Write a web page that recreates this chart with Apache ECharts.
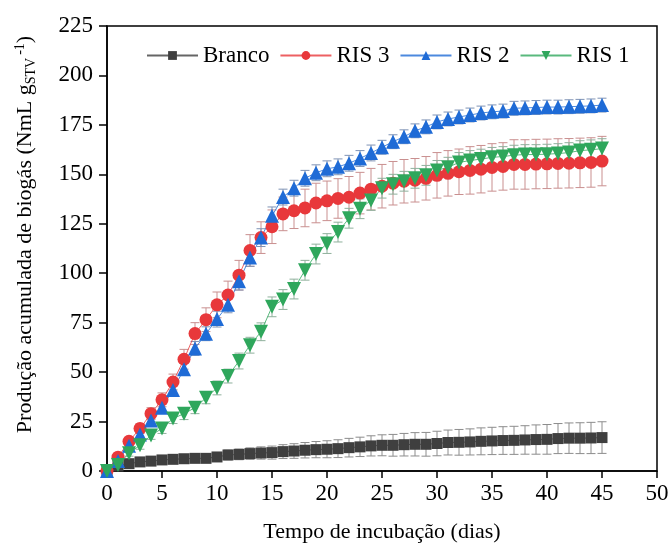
<!DOCTYPE html>
<html><head><meta charset="utf-8">
<script src="https://cdn.jsdelivr.net/npm/echarts@6/dist/echarts.min.js"></script>
<style>html,body{margin:0;padding:0;background:#fff}#c{width:669px;height:543px}</style>
</head><body><div id="c"></div>
<script>
var days = [0,1,2,3,4,5,6,7,8,9,10,11,12,13,14,15,16,17,18,19,20,21,22,23,24,25,26,27,28,29,30,31,32,33,34,35,36,37,38,39,40,41,42,43,44,45];
var branco = [0,2.5,3.7,4.6,5,5.6,5.9,6.2,6.4,6.4,7.1,8.1,8.4,8.8,9.1,9.3,9.8,10.1,10.5,10.8,11,11.3,11.8,12.2,12.7,13,13,13.3,13.5,13.5,13.9,14.4,14.5,14.7,15,15.2,15.4,15.5,15.7,15.9,16,16.4,16.6,16.6,16.7,16.9];
var brancoErr = [0,0.5,0.8,1,1.2,1.4,1.5,1.7,1.9,2,2.2,2.5,2.7,2.9,3.1,3.3,3.5,3.7,3.9,4.1,4.3,4.5,4.7,4.9,5.1,5.3,5.5,5.7,5.9,6,6.2,6.3,6.5,6.6,6.8,6.9,7,7.1,7.2,7.4,7.5,7.6,7.7,7.8,7.9,8];
var ris3 = [0,7,15,21.5,29,36,45,56.5,69.5,76.5,84,89,99,111.5,118,123.5,130,131.6,133,135.5,136.6,137.8,138.4,140.5,142.5,144,145.5,146.5,147,148,149.5,150.5,151.3,152,152.6,153.5,154,155,155,155.2,155.3,155.5,155.6,155.8,156,156.7];
var ris3Err = [0,1.5,2,2.5,3,3.5,4,5,5.5,6,6.5,7,7.5,8,8,8.5,8.5,9,9.5,10,10,10,10.5,10.5,10.5,11,11,11,11,11,11.5,11.5,11.5,12,12,12,12,12.5,12.5,12.5,12.5,12.5,12.5,12.5,12.5,12.5];
var ris2 = [0,5,12.8,18.4,25.5,32,41,51.5,62,69.4,76.8,84,96,108,118,129,138.5,143,148,150.8,152.8,153.8,155.6,158,160.8,163.7,166.5,169,172,174,176.5,178,179,180,181,181.6,182,183.4,183.6,183.8,184,184,184.2,184.4,184.6,185];
var ris2Err = [0,1,1.5,2,2.5,2.5,3,3,3.5,3.5,4,4,4.5,4.5,4.5,4.5,4,4,4,4,4,4,4,4,4,3.5,3.5,3.5,3.5,3.5,3.5,3.5,3.5,3.5,3.5,3.5,3.5,3.5,3.5,3.5,3.5,3.5,3.5,3.5,3.5,3.5];
var ris1 = [0,3,9,13,18,21.5,26.5,29,32,37,42,48,55.6,63.6,70.4,83,86.7,92,101.5,109.7,115,120.8,127.8,132.6,136.8,143,145,146.5,148,149.5,152,153.6,156,157,157.7,158.6,159,159.7,160,160,160.2,160.5,161,162,162.4,163];
var ris1Err = [0,1,1.5,2,2,2.5,2.5,3,3,3,3.5,3.5,4,4,4.5,5,5,5,5,5,5,5,5,5,5,5,5,5,5,5,5,5,5,5,5,5,5,5,5,5,5,5,5,5,5,5];
var xTicks = {min:0, max:50, interval:5};
var yTicks = {min:0, max:225, interval:25};

var FONT = 'Liberation Serif';
function pairs(v){ return days.map(function(d,i){ return [d, v[i]]; }); }
function errData(v,e){ return days.map(function(d,i){ return [d, v[i]-e[i], v[i]+e[i]]; }); }
function errSeries(name, v, e, color){
  return {
    type:'custom', name:name, z:1, silent:true,
    data: errData(v,e),
    encode:{x:0, y:[1,2]},
    renderItem:function(params, api){
      var x=api.value(0), lo=api.value(1), hi=api.value(2);
      var a=api.coord([x,lo]), b=api.coord([x,hi]);
      var w=4.5;
      var st={stroke:color, lineWidth:1};
      return {type:'group', children:[
        {type:'line', shape:{x1:a[0],y1:a[1],x2:b[0],y2:b[1]}, style:st},
        {type:'line', shape:{x1:a[0]-w,y1:a[1],x2:a[0]+w,y2:a[1]}, style:st},
        {type:'line', shape:{x1:b[0]-w,y1:b[1],x2:b[0]+w,y2:b[1]}, style:st}
      ]};
    }
  };
}
function lineSeries(name, v, color, symbol, size, rot){
  return {
    type:'line', name:name, data:pairs(v), z:3,
    symbol:symbol, symbolSize:size, symbolRotate:rot||0, showAllSymbol:true,
    lineStyle:{color:color, width:1, opacity:0.8},
    itemStyle:{color:color, opacity:1},
    emphasis:{disabled:true}, animation:false
  };
}
var cBr='#3f3f3f', cR3='#e8383b', cR2='#1f6bd6', cR1='#2fa75c';
var chart = echarts.init(document.getElementById('c'), null, {renderer:'canvas'});
chart.setOption({
  animation:false,
  backgroundColor:'#fff',
  grid:{left:107, right:12, top:26, bottom:72, containLabel:false, outerBoundsMode:'none',
        show:true, borderColor:'#000', borderWidth:1.5, backgroundColor:'transparent'},
  legend:{
    top:39, left:141, itemWidth:51, itemHeight:11, itemGap:10,
    data:['Branco','RIS 3','RIS 2','RIS 1'],
    textStyle:{fontFamily:FONT, fontSize:23, color:'#000'}
  },
  xAxis:{
    type:'value', min:xTicks.min, max:xTicks.max, interval:xTicks.interval,
    name:'Tempo de incubação (dias)', nameLocation:'middle', nameGap:50,
    nameTextStyle:{fontFamily:FONT, fontSize:22, color:'#000'},
    axisLine:{show:true, lineStyle:{color:'#000', width:1.5}},
    axisTick:{show:true, length:7, lineStyle:{color:'#000', width:1.5}},
    axisLabel:{fontFamily:FONT, fontSize:23, color:'#000', margin:11},
    splitLine:{show:false}
  },
  yAxis:{
    type:'value', min:yTicks.min, max:yTicks.max, interval:yTicks.interval,
    name:'Produção acumulada de biogás (NmL g{sub|STV}{sup|-1})', nameLocation:'middle', nameGap:69,
    nameTextStyle:{fontFamily:FONT, fontSize:22, color:'#000', padding:[0,0,0,28],
      rich:{
        sub:{fontFamily:FONT, fontSize:14, color:'#000', verticalAlign:'bottom', padding:[9,0,0,0]},
        sup:{fontFamily:FONT, fontSize:14, color:'#000', verticalAlign:'top', padding:[0,0,11,3]}
      }},
    axisLine:{show:true, lineStyle:{color:'#000', width:1.5}},
    axisTick:{show:true, length:8, lineStyle:{color:'#000', width:1.5}},
    axisLabel:{fontFamily:FONT, fontSize:23, color:'#000', margin:14},
    splitLine:{show:false}
  },
  series:[
    errSeries('e0', branco, brancoErr, '#8c8c8c'),
    errSeries('e3', ris3, ris3Err, '#c98f8f'),
    errSeries('e2', ris2, ris2Err, '#7f93b5'),
    errSeries('e1', ris1, ris1Err, '#8fb09c'),
    lineSeries('Branco', branco, cBr, 'rect', 11),
    lineSeries('RIS 3', ris3, cR3, 'circle', 13),
    lineSeries('RIS 2', ris2, cR2, 'triangle', 14),
    lineSeries('RIS 1', ris1, cR1, 'triangle', 14, 180)
  ]
});
</script></body></html>
